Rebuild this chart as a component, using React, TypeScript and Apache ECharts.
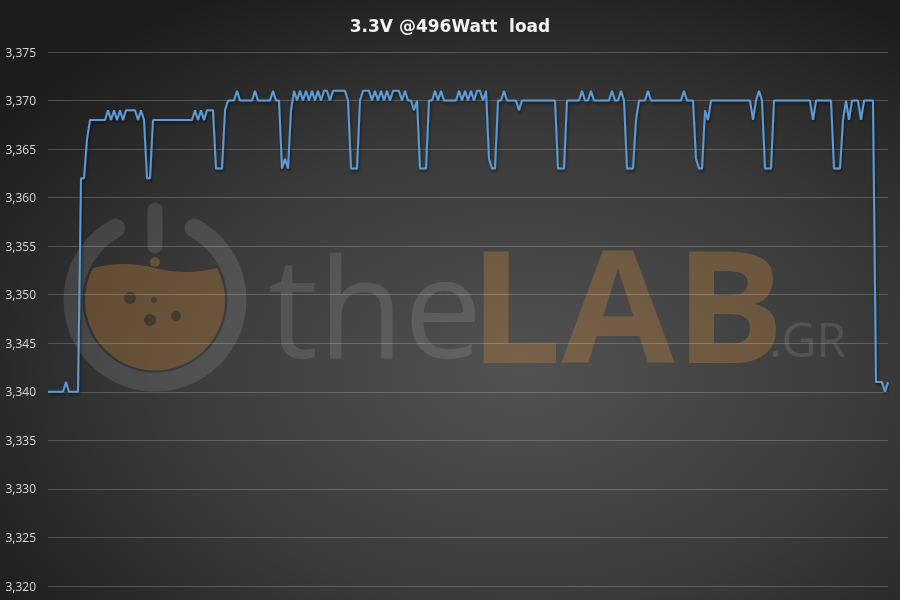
import { useEffect, useRef } from "react";
import * as echarts from "echarts";

const TITLE = "3.3V @496Watt  load";

// 3.3V rail readings (V), one sample per step
const voltages: number[] = [
  3.340, 3.340, 3.340, 3.340, 3.340, 3.340, 3.341, 3.340, 3.340, 3.340,
  3.340, 3.362, 3.362, 3.366, 3.368, 3.368, 3.368, 3.368, 3.368, 3.368,
  3.369, 3.368, 3.369, 3.368, 3.369, 3.368, 3.369, 3.369, 3.369, 3.369,
  3.368, 3.369, 3.368, 3.362, 3.362, 3.368, 3.368, 3.368, 3.368, 3.368,
  3.368, 3.368, 3.368, 3.368, 3.368, 3.368, 3.368, 3.368, 3.368, 3.369,
  3.368, 3.369, 3.368, 3.369, 3.369, 3.369, 3.363, 3.363, 3.363, 3.369,
  3.370, 3.370, 3.370, 3.371, 3.370, 3.370, 3.370, 3.370, 3.370, 3.371,
  3.370, 3.370, 3.370, 3.370, 3.370, 3.371, 3.370, 3.370, 3.363, 3.364,
  3.363, 3.369, 3.371, 3.370, 3.371, 3.370, 3.371, 3.370, 3.371, 3.370,
  3.371, 3.370, 3.371, 3.371, 3.370, 3.371, 3.371, 3.371, 3.371, 3.371,
  3.370, 3.363, 3.363, 3.363, 3.370, 3.371, 3.371, 3.371, 3.370, 3.371,
  3.370, 3.371, 3.370, 3.371, 3.370, 3.371, 3.371, 3.371, 3.370, 3.371,
  3.370, 3.370, 3.369, 3.370, 3.363, 3.363, 3.363, 3.370, 3.370, 3.371,
  3.370, 3.371, 3.370, 3.370, 3.370, 3.370, 3.370, 3.371, 3.370, 3.371,
  3.370, 3.371, 3.370, 3.371, 3.371, 3.370, 3.371, 3.364, 3.363, 3.363,
  3.370, 3.370, 3.371, 3.370, 3.370, 3.370, 3.370, 3.369, 3.370, 3.370,
  3.370, 3.370, 3.370, 3.370, 3.370, 3.370, 3.370, 3.370, 3.370, 3.370,
  3.363, 3.363, 3.363, 3.370, 3.370, 3.370, 3.370, 3.370, 3.371, 3.370,
  3.370, 3.371, 3.370, 3.370, 3.370, 3.370, 3.370, 3.370, 3.371, 3.370,
  3.370, 3.371, 3.370, 3.363, 3.363, 3.363, 3.368, 3.370, 3.370, 3.370,
  3.371, 3.370, 3.370, 3.370, 3.370, 3.370, 3.370, 3.370, 3.370, 3.370,
  3.370, 3.370, 3.371, 3.370, 3.370, 3.370, 3.364, 3.363, 3.363, 3.369,
  3.368, 3.370, 3.370, 3.370, 3.370, 3.370, 3.370, 3.370, 3.370, 3.370,
  3.370, 3.370, 3.370, 3.370, 3.370, 3.368, 3.370, 3.371, 3.370, 3.363,
  3.363, 3.363, 3.370, 3.370, 3.370, 3.370, 3.370, 3.370, 3.370, 3.370,
  3.370, 3.370, 3.370, 3.370, 3.370, 3.368, 3.370, 3.370, 3.370, 3.370,
  3.370, 3.370, 3.363, 3.363, 3.363, 3.368, 3.370, 3.368, 3.370, 3.370,
  3.370, 3.368, 3.370, 3.370, 3.370, 3.370, 3.341, 3.341, 3.341, 3.340,
  3.341,
];

const samples: string[] = voltages.map((_, i) => String(i + 1));

const Y_MIN = 3.32;
const Y_MAX = 3.375;
const Y_STEP = 0.005;

echarts.graphic.registerShape(
  "flaskFill",
  echarts.graphic.extendPath(
    "M93,268 Q124,260 155,268 T217,268 A70,70 0 1 1 93,268 Z",
    {}
  )
);

export default function App() {
  const ref = useRef<HTMLDivElement>(null);

  useEffect(() => {
    if (!ref.current) return;
    const chart = echarts.init(ref.current, null, { renderer: "svg" });
    const wm = "rgba(255,255,255,0.11)";
    const orange = "rgba(200,135,60,0.33)";
    const dot = "rgba(40,40,40,0.55)";
    chart.setOption({
      animation: false,
      backgroundColor: new echarts.graphic.RadialGradient(0.58, 0.62, 0.72, [
        { offset: 0, color: "#525252" },
        { offset: 0.55, color: "#3a3a3a" },
        { offset: 1, color: "#1c1c1c" },
      ]),
      title: {
        text: TITLE,
        left: "center",
        top: 12,
        textStyle: {
          color: "#f2f2f2",
          fontSize: 17,
          fontWeight: "bold",
          fontFamily: "DejaVu Sans",
        },
      },
      graphic: [
        {
          type: "arc",
          z: 0,
          silent: true,
          shape: {
            cx: 155,
            cy: 300,
            r: 82,
            startAngle: -Math.PI / 2 + 0.5,
            endAngle: -Math.PI / 2 - 0.5 + Math.PI * 2,
            clockwise: true,
          },
          style: { stroke: wm, lineWidth: 19, lineCap: "round", fill: "none" },
        },
        {
          type: "line",
          z: 0,
          silent: true,
          shape: { x1: 155, y1: 210, x2: 155, y2: 246 },
          style: { stroke: wm, lineWidth: 15, lineCap: "round" },
        },
        { type: "flaskFill", z: 0, silent: true, x: 0, y: 0, style: { fill: orange } },
        { type: "circle", z: 0, silent: true, shape: { cx: 130, cy: 298, r: 6 }, style: { fill: dot } },
        { type: "circle", z: 0, silent: true, shape: { cx: 150, cy: 320, r: 6 }, style: { fill: dot } },
        { type: "circle", z: 0, silent: true, shape: { cx: 176, cy: 316, r: 5 }, style: { fill: dot } },
        { type: "circle", z: 0, silent: true, shape: { cx: 154, cy: 300, r: 3 }, style: { fill: dot } },
        { type: "circle", z: 0, silent: true, shape: { cx: 155, cy: 262, r: 5 }, style: { fill: orange } },
        {
          type: "text",
          z: 0,
          silent: true,
          x: 268,
          y: 303,
          style: {
            text: "the",
            font: "normal 140px 'Open Sans'",
            fill: wm,
            verticalAlign: "middle",
            align: "left",
          },
        },
        {
          type: "text",
          z: 0,
          silent: true,
          x: 469,
          y: 303,
          scaleX: 1.05,
          style: {
            text: "LAB",
            font: "bold 156px 'Open Sans'",
            fill: orange,
            verticalAlign: "middle",
            align: "left",
          },
        },
        {
          type: "text",
          z: 0,
          silent: true,
          x: 769,
          y: 338,
          style: {
            text: ".GR",
            font: "normal 48px 'Open Sans'",
            fill: wm,
            verticalAlign: "middle",
            align: "left",
          },
        },
      ],
      grid: { left: 48, right: 12, top: 52, bottom: 14, containLabel: false },
      xAxis: {
        type: "category",
        data: samples,
        boundaryGap: false,
        show: false,
      },
      yAxis: {
        type: "value",
        min: Y_MIN,
        max: Y_MAX,
        interval: Y_STEP,
        axisLine: { show: false },
        axisTick: { show: false },
        axisLabel: {
          color: "#d9d9d9",
          fontSize: 12,
          fontFamily: "Open Sans",
          margin: 12,
          formatter: (v: number) => v.toFixed(3).replace(".", ","),
        },
        splitLine: { lineStyle: { color: "rgba(255,255,255,0.2)", width: 1 } },
      },
      series: [
        {
          type: "line",
          data: voltages,
          showSymbol: false,
          symbol: "none",
          z: 3,
          lineStyle: {
            color: "#5B9BD5",
            width: 2,
            shadowColor: "rgba(0,0,0,0.55)",
            shadowBlur: 3,
            shadowOffsetX: 1,
            shadowOffsetY: 2,
          },
        },
      ],
    });
    return () => chart.dispose();
  }, []);

  return (
    <div
      ref={ref}
      style={{ position: "fixed", left: 0, top: 0, width: 900, height: 600 }}
    />
  );
}
